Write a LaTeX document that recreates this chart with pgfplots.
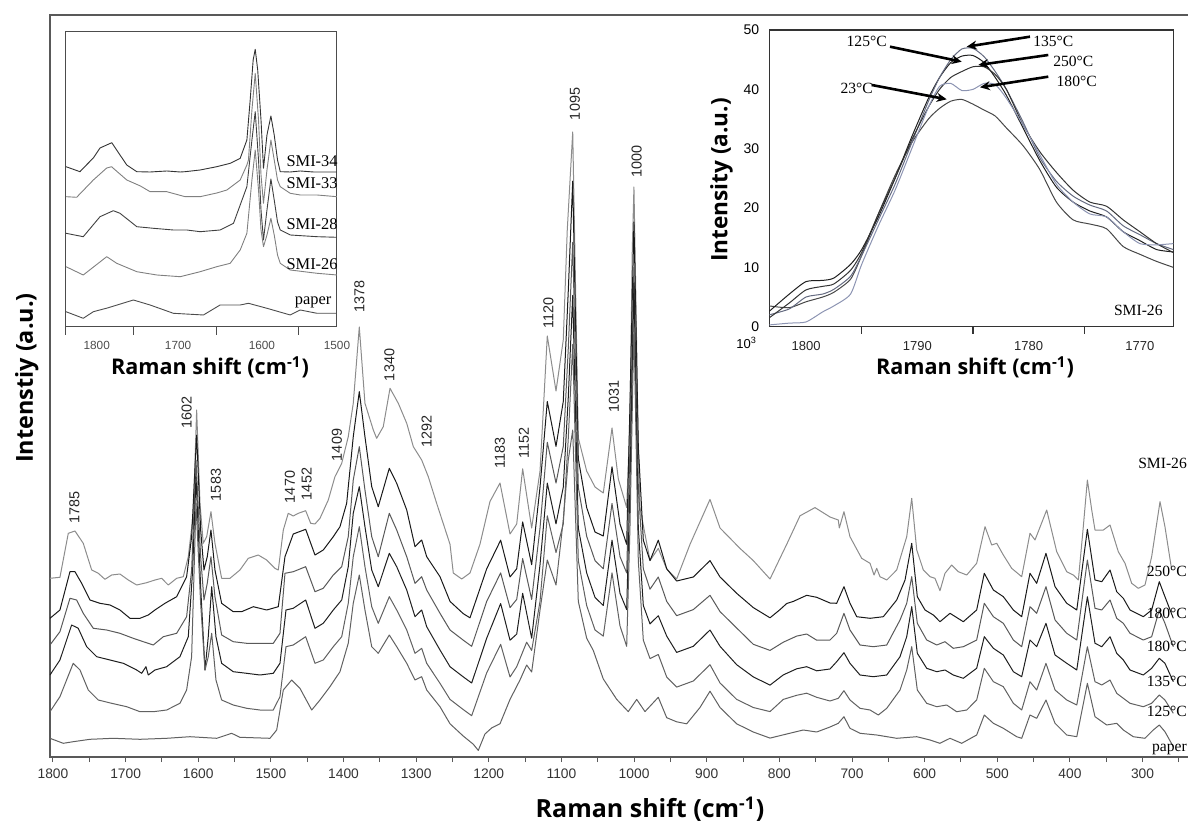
\documentclass[border=0pt]{standalone}
\usepackage{fontspec}
\usepackage{pgfplots}
\pgfplotsset{compat=1.18}
\usetikzlibrary{arrows.meta}
\setmainfont{Liberation Serif}
\newfontfamily\arial{Liberation Sans}
\newfontfamily\osans{Open Sans}
\newcommand{\fs}[1]{\fontsize{#1}{#1}\selectfont}
\pgfplotsset{spec/.style={no markers, line width=0.5pt, line join=round}}
\begin{document}
\begin{tikzpicture}
% ---------------- main spectra ----------------
\begin{axis}[
  at={(25pt,35.5pt)}, anchor=south west, scale only axis,
  width=575.35pt, height=371pt,
  x dir=reverse, xmin=220, xmax=1804.1,
  y dir=reverse, ymin=15, ymax=757,
  xtick={300,400,500,600,700,800,900,1000,1100,1200,1300,1400,1500,1600,1700,1800},
  xticklabels={300,400,500,600,700,800,900,1000,1100,1200,1300,1400,1500,1600,1700,1800},
  minor xtick={250,350,...,1750},
  xtick pos=left,
  ytick=\empty,
  tick align=outside, major tick length=2.6pt, minor tick length=2.6pt,
  axis line style={draw=black!65, line width=0.6pt},
  tick style={draw=black!65, line width=0.5pt},
  xticklabel style={font=\arial\fs{6.9}, text=black!80},
]
% A (top, grey)
\addplot[spec, color=black!45] coordinates {(1804.1,578.3)(1790.4,577.3)(1778.9,533.3)(1769.7,531)(1758.3,543.3)(1746.7,570)(1737.6,573.3)(1728.4,579.3)(1719.2,575)(1707.8,574)(1696.3,580)(1684.8,585)(1671.0,582.7)(1659.6,580)(1650.4,578.3)(1641.3,585)(1629.7,578.3)(1620.6,576.7)(1613.7,556.7)(1606.8,513.3)(1602.2,410)(1597.6,503.3)(1593.1,543.3)(1588.4,536.7)(1582.5,511.7)(1577.0,543.3)(1567.8,578.3)(1556.3,578.3)(1542.6,570)(1531.1,558.3)(1517.4,555)(1505.8,560)(1494.4,568.3)(1489.8,570)(1482.9,530)(1476.1,513.3)(1469.2,516)(1462.3,513.3)(1452.1,510.7)(1445.2,523.3)(1439.3,524)(1432.4,518.3)(1421.0,500)(1411.8,476.7)(1402.5,463.3)(1393.5,436.7)(1386.6,403.3)(1378.3,327)(1370.5,403.3)(1359.0,430)(1354.4,438.3)(1345.3,426.7)(1336.0,388.3)(1324.6,403.3)(1313.0,423.3)(1303.9,446.7)(1292.4,460)(1283.3,476.7)(1271.8,503.3)(1253.4,544.3)(1248.9,573)(1237.3,579)(1225.9,573)(1212.2,544.3)(1198.4,501.5)(1184.6,483)(1170.8,534)(1161.6,524)(1153.4,468.8)(1141.0,528)(1129.5,471)(1119.5,336)(1107.5,391)(1097.5,340)(1092.0,230)(1084.5,132)(1076.8,438)(1065.3,471)(1053.8,487)(1042.4,493)(1030.4,428)(1021.7,479)(1010.2,507.6)(1005.7,420)(1002.5,250)(1000.2,187)(997.5,300)(994.2,450)(991.9,507.6)(978.1,560.6)(966.7,548.4)(955.1,569)(941.4,579)(923.0,544.3)(895.5,499.4)(881.7,528)(854.2,548.4)(835.9,560.6)(812.9,579)(789.9,544.3)(771.6,515.8)(751.0,507.6)(730.3,517)(718.9,520)(717.5,528)(711.1,511.7)(702.8,536.7)(686.7,558.3)(675.2,563.3)(669.7,575)(666.0,568.3)(661.5,576.7)(652.2,580)(638.5,570)(624.7,536.7)(617.8,498.3)(610.9,550)(601.8,570)(592.6,576.7)(585.8,578.3)(578.9,590.7)(572.0,573.3)(562.8,565)(553.7,571.7)(542.1,575)(528.4,563.3)(516.9,526.7)(507.7,545)(500.8,543.3)(491.7,555)(480.2,568.3)(466.4,576.7)(455.0,533.3)(448.1,540)(432.0,510)(418.2,551.7)(404.4,571.7)(395.3,575)(388.4,580)(382,530)(376.0,480)(370,510)(365.5,530)(354.0,530)(344.8,525)(333.4,551.7)(324.2,563.3)(315.0,583.3)(305.9,588.3)(296.7,585)(287.5,556.7)(276.0,501.7)(269.2,526.7)(259.9,570)};
% B
\addplot[spec, color=black!90] coordinates {(1804.1,618.3)(1790.4,610)(1776.6,571.7)(1769.7,571.7)(1760.5,583.3)(1749.1,600)(1735.3,603.3)(1721.5,605)(1707.8,610)(1694.0,618.3)(1680.2,618.3)(1668.8,615)(1659.6,610)(1645.8,603.3)(1629.7,596.7)(1616.0,576.7)(1609.1,536.7)(1602.2,435)(1596.7,530)(1592.1,570)(1587.6,556.7)(1582.5,530)(1577.0,570)(1567.8,603.3)(1551.8,611.7)(1540.3,611.7)(1524.2,606.7)(1505.8,610)(1489.8,606.7)(1480.6,556.7)(1469.2,534)(1452.1,529.3)(1439.3,555)(1427.9,550)(1414.1,536.7)(1404.9,526.7)(1395.7,503.3)(1386.6,436.7)(1378.3,391.7)(1370.5,436.7)(1361.2,486.7)(1352.2,506.7)(1337.0,468.3)(1326.8,483.3)(1313.0,510)(1301.6,546.7)(1292.4,540)(1285.5,556.7)(1267.2,576.7)(1253.4,601.4)(1235.1,613.7)(1225.9,617.8)(1202.9,568.8)(1183.7,540.2)(1170.8,577)(1161.6,568.8)(1153.4,521.9)(1141.0,564.7)(1129.5,487)(1119.5,401.5)(1107.5,446.4)(1097.5,401.5)(1090.6,291)(1084.5,181.2)(1076.8,458.6)(1065.3,507.6)(1053.8,532)(1042.4,536)(1030.4,466.8)(1019.4,524)(1010.2,544.3)(1005.7,405.6)(1000.2,222)(994.2,446.4)(987.3,540.2)(978.1,560.6)(966.7,540.2)(955.1,568.8)(941.4,581)(918.5,577)(895.5,560.6)(881.7,577)(858.8,593.3)(835.9,607.6)(812.9,617.8)(799.1,609.6)(789.9,603.5)(780.8,601.4)(762.4,595.3)(748.6,597.3)(730.3,603)(721.1,603.3)(711.1,586.7)(702.8,603.3)(693.6,616.7)(675.2,618.3)(656.9,616.7)(638.5,600)(627.0,580)(617.8,543.3)(610.1,596.7)(599.5,610)(588.1,615)(578.9,621.7)(565.1,613.3)(546.8,621.7)(528.4,610)(517.9,573.3)(505.4,590)(491.7,596.7)(477.9,610)(466.4,616.7)(455.0,573.3)(445.8,583.3)(433.0,553.3)(420.5,586.7)(404.4,603.3)(390.6,610)(376.0,529.3)(365.5,580)(356.2,581.7)(344.8,570)(335.6,591.7)(326.5,598.3)(317.3,610)(299.0,616.7)(287.5,610)(277.0,581.7)(269.2,596.7)(257.7,618.3)};
% C
\addplot[spec, color=black!65] coordinates {(1804.1,645)(1790.4,631.7)(1776.6,598.3)(1767.4,600)(1758.3,613.3)(1744.5,628.3)(1726.1,630)(1707.8,633.3)(1689.5,638.3)(1675.7,641.7)(1661.9,645)(1648.1,636.7)(1629.7,633.3)(1616.0,616.7)(1609.1,570)(1603.1,460)(1596.7,556.7)(1592.1,600)(1587.6,583.3)(1582.5,556.7)(1577.0,596.7)(1567.8,635)(1551.8,641.7)(1533.3,643.3)(1515.0,643.3)(1496.7,643.3)(1487.5,633.3)(1480.6,573.3)(1469.2,571.7)(1452.1,566.7)(1439.3,591.7)(1427.9,588.3)(1414.1,575)(1402.5,566.7)(1393.5,536.7)(1386.6,480)(1378.3,446.7)(1370.5,490)(1361.2,536.7)(1352.2,556.7)(1337.0,513.3)(1326.8,530)(1313.0,556.7)(1301.6,583.3)(1292.4,576.7)(1285.5,590)(1267.2,613.3)(1253.4,630)(1235.1,640.2)(1223.6,646.3)(1202.9,601.4)(1183.7,572.9)(1170.8,607.6)(1161.6,599.4)(1153.4,558.6)(1141.0,599.4)(1129.5,528)(1119.5,442.3)(1107.5,483)(1097.5,446.4)(1090.6,348.5)(1084.5,242.4)(1076.8,487.2)(1065.3,536.2)(1053.8,560.6)(1042.4,568.8)(1030.4,503.5)(1019.4,556.6)(1010.2,572.9)(1005.7,446.4)(1000.2,266.9)(994.2,487.2)(987.3,568.8)(978.1,589.2)(966.7,577)(955.1,601.4)(941.4,615.7)(918.5,609.6)(895.5,595.3)(881.7,611.6)(858.8,628)(835.9,644.3)(812.9,650.4)(794.6,642.2)(776.2,636.1)(762.4,634)(748.6,640.2)(730.3,640)(721.1,633.3)(711.1,613.3)(702.8,630)(689.0,645)(670.7,646.7)(652.2,645)(633.9,620)(624.7,603.3)(617.8,576.7)(610.1,623.3)(597.2,640)(583.4,645)(572.0,641.7)(560.6,648.3)(546.8,646.7)(528.4,640)(517.9,603.3)(505.4,616.7)(491.7,623.3)(477.9,640)(466.4,646.7)(455.0,606.7)(445.8,613.3)(433.0,586.7)(420.5,620)(404.4,633.3)(390.6,640)(376.0,560)(365.5,608.3)(356.2,610)(344.8,600)(335.6,618.3)(326.5,623.3)(317.3,633.3)(299.0,640)(287.5,636.7)(277.0,610)(269.2,623.3)(257.7,646.7)};
% D
\addplot[spec, color=black!88] coordinates {(1804.1,675)(1790.4,660)(1774.3,625)(1765.2,628.3)(1753.6,646.7)(1739.8,656.7)(1721.5,660)(1703.2,663.3)(1684.8,670)(1677.9,673.3)(1672.0,666.7)(1668.8,675)(1659.6,670)(1643.5,666.7)(1625.2,656.7)(1613.7,636.7)(1607.7,570)(1603.1,476.7)(1596.7,586.7)(1590.7,670)(1586.2,636.7)(1581.5,586.7)(1575.6,636.7)(1567.8,663.3)(1551.8,671.7)(1533.3,673.3)(1515.0,675)(1496.7,673.3)(1487.5,663.3)(1479.2,610)(1469.2,608.3)(1452.1,600)(1439.3,628.3)(1427.9,623.3)(1414.1,610)(1402.5,600)(1393.5,566.7)(1386.6,513.3)(1378.3,486.7)(1370.5,526.7)(1361.2,570)(1352.2,586.7)(1337.0,553.3)(1326.8,566.7)(1313.0,590)(1301.6,616.7)(1292.4,610)(1285.5,626.7)(1267.2,650)(1253.4,666.7)(1235.1,676.9)(1223.6,683)(1202.9,638.2)(1183.7,603.5)(1170.8,640.2)(1161.6,634.1)(1153.4,593.3)(1141.0,638.2)(1129.5,564.7)(1119.5,483.1)(1107.5,523.9)(1097.5,487.2)(1090.6,397.4)(1084.5,295.4)(1076.8,528)(1065.3,572.9)(1053.8,597.4)(1042.4,605.5)(1030.4,540.2)(1019.4,593.3)(1010.2,609.6)(1005.7,487.2)(1000.2,283.2)(994.2,528)(987.3,605.5)(978.1,623.9)(966.7,615.7)(955.1,636.1)(941.4,652.4)(918.5,646.3)(895.5,630)(881.7,646.3)(858.8,664.7)(835.9,676.9)(812.9,685.1)(794.6,674.9)(776.2,668.8)(762.4,666.7)(748.6,670.8)(730.3,669)(721.1,661.7)(711.1,652.7)(702.8,663.3)(689.0,675)(670.7,676.7)(652.2,675)(633.9,656.7)(624.7,636.7)(617.8,606.7)(610.1,653.3)(597.2,668.3)(583.4,671.7)(572.0,670)(560.6,675)(546.8,678.3)(528.4,668.3)(517.9,636.7)(505.4,648.3)(491.7,655)(477.9,671.7)(466.4,676.7)(455.0,640)(445.8,646.7)(433.0,623.3)(420.5,655)(404.4,663.3)(390.6,670)(376.0,596.7)(365.5,643.3)(356.2,646.7)(344.8,636.7)(335.6,653.3)(326.5,660)(317.3,670)(299.0,675)(287.5,668.3)(277.0,658.3)(269.2,663.3)(257.7,681.7)};
% E
\addplot[spec, color=black!62] coordinates {(1804.1,711.7)(1790.4,696.7)(1772.1,663.3)(1762.8,670)(1751.4,690)(1737.6,700)(1719.2,703.3)(1698.5,706.7)(1680.2,711.7)(1661.9,711.7)(1643.5,710)(1625.2,703.3)(1616.0,690)(1609.1,656.7)(1603.1,503.3)(1596.7,603.3)(1590.7,670)(1586.2,656.7)(1581.5,633.3)(1575.6,680)(1567.8,700)(1551.8,705)(1533.3,708.3)(1515.0,710)(1496.7,710)(1487.5,696.7)(1479.2,646.7)(1469.2,645)(1452.1,636.7)(1439.3,663.3)(1427.9,660)(1414.1,646.7)(1402.5,636.7)(1393.5,603.3)(1386.6,556.7)(1378.3,526.7)(1370.5,566.7)(1361.2,606.7)(1352.2,623.3)(1337.0,596.7)(1326.8,610)(1313.0,630)(1301.6,653.3)(1292.4,648.3)(1285.5,663.3)(1267.2,683.3)(1253.4,699.4)(1235.1,709.6)(1223.6,715.7)(1202.9,672.8)(1183.7,644.3)(1170.8,677)(1161.6,666.7)(1147.9,642.2)(1141.0,650.4)(1129.5,601.4)(1119.5,515.8)(1107.5,552.5)(1097.5,523.9)(1090.6,438.2)(1084.5,344.4)(1076.8,560.6)(1065.3,605.5)(1053.8,630)(1042.4,636.1)(1030.4,572.9)(1019.4,625.9)(1010.2,646.3)(1005.7,528)(1000.2,324)(994.2,560.6)(987.3,640.2)(978.1,658.6)(966.7,654.5)(955.1,677)(941.4,687.1)(918.5,681)(895.5,664.7)(881.7,683)(858.8,699.4)(835.9,707.5)(812.9,711.6)(794.6,699.4)(776.2,695.3)(762.4,693.2)(748.6,697.3)(730.3,701)(718.9,698.3)(711.1,690.7)(702.8,700)(689.0,708.3)(675.2,710)(663.8,715)(652.2,708.3)(633.9,690)(624.7,670)(617.8,646.7)(610.1,690)(597.2,703.3)(583.4,706.7)(569.7,705)(555.9,711.7)(542.1,710)(528.4,700)(517.9,668.3)(505.4,681.7)(491.7,686.7)(477.9,703.3)(466.4,710)(455.0,681.7)(445.8,690)(433.0,663.3)(420.5,690)(404.4,700)(390.6,705)(376.0,646.7)(365.5,681.7)(356.2,685)(344.8,680)(335.6,693.3)(326.5,698.3)(317.3,703.3)(299.0,706.7)(287.5,703.3)(277.0,695)(269.2,700)(257.7,713.3)};
% F paper
\addplot[spec, color=black!62] coordinates {(1804.1,738.3)(1785.8,743.3)(1772.1,741.7)(1749.1,739.3)(1717.0,738.3)(1680.2,739.3)(1643.5,738.3)(1611.4,736.7)(1574.6,738.3)(1554.0,733.3)(1542.6,737.3)(1501.3,738.3)(1492.0,730)(1482.9,690)(1471.4,680)(1460.0,688.3)(1443.8,710)(1432.4,700)(1418.7,686.7)(1404.9,671.7)(1393.5,643.3)(1386.6,603.3)(1378.3,575)(1370.5,610)(1361.2,646.7)(1352.2,653.3)(1337.0,635)(1326.8,646.7)(1313.0,663.3)(1301.6,680)(1292.4,676.7)(1285.5,690)(1267.2,706.7)(1253.4,723.8)(1235.1,736.1)(1221.4,744.2)(1214.5,750.4)(1205.3,734)(1196.0,727.9)(1184.6,723.8)(1170.8,699.4)(1157.1,680)(1147.9,665)(1141.0,672)(1129.5,610)(1119.5,560)(1107.5,585)(1097.5,520)(1090.6,460)(1084.5,430)(1076.8,601.4)(1065.3,638.2)(1056.2,650.4)(1042.4,679)(1023.9,699.4)(1008.0,711.6)(996.4,699.4)(985.0,711.6)(966.7,697.3)(955.1,717.7)(941.4,721.8)(927.6,723.8)(909.3,707.5)(895.5,691.2)(881.7,707.5)(858.8,723.8)(835.9,732)(812.9,738.1)(789.9,734)(767.1,730)(748.6,732)(730.3,727)(718.9,723.3)(711.1,716.7)(702.8,728.3)(689.0,733.3)(666.0,735)(638.5,738.3)(610.9,736.7)(592.6,740)(578.9,743.3)(565.1,738.3)(549.0,743.3)(528.4,735)(517.9,715)(505.4,723.3)(491.7,728.3)(473.3,736.7)(466.4,738.3)(455.0,715)(445.8,718.3)(433.0,700)(420.5,723.3)(404.4,735)(390.6,736.7)(376.0,683.3)(365.5,716.7)(349.4,725)(335.6,723.3)(326.5,730)(312.8,736.7)(296.7,738.3)(285.3,730)(277.0,725)(269.2,731.7)(257.7,746.7)};
\end{axis}

% peak labels
\begin{scope}[every node/.style={rotate=90, inner sep=0pt, font=\arial\fs{7.2}, text=black!85}]
\node at (37.25pt,160.15pt) {1785};
\node at (93.35pt,207.75pt) {1602};
\node at (108pt,171.5pt) {1583};
\node at (145pt,170.5pt) {1470};
\node at (153.35pt,172pt) {1452};
\node at (168.5pt,191.5pt) {1409};
\node at (179.65pt,265.65pt) {1378};
\node at (194.65pt,231.5pt) {1340};
\node at (213.35pt,198.15pt) {1292};
\node at (250pt,187.35pt) {1183};
\node at (262pt,192.35pt) {1152};
\node at (274.25pt,257.35pt) {1120};
\node at (287.5pt,362pt) {1095};
\node at (307pt,215.65pt) {1031};
\node at (318.35pt,333.15pt) {1000};
\end{scope}

% right labels (kept inside the picture)
\begin{scope}[every node/.style={anchor=base east, inner sep=0pt, font=\fs{7.8}}]
\node at (593.6pt,179.85pt) {SMI-26};
\node at (593.6pt,125.5pt) {250°C};
\node at (593.6pt,104.7pt) {180°C};
\node at (593.6pt,88.35pt) {180°C};
\node at (593.6pt,70.5pt) {135°C};
\node at (593.6pt,55.5pt) {125°C};
\node at (593.6pt,38.15pt) {paper};
\end{scope}

% main axis labels
\node[anchor=base, inner sep=0pt, font=\osans\bfseries\fs{12.5}] at (325pt,5pt) {Raman shift (cm\textsuperscript{-1})};
\node[anchor=base, rotate=90, inner sep=0pt, font=\osans\bfseries\fs{11.7}] at (16.5pt,225pt) {Intenstiy (a.u.)};

% ---------------- inset 1 ----------------
\begin{axis}[
  at={(33pt,250.5pt)}, anchor=south west, scale only axis,
  width=135.5pt, height=147.5pt,
  x dir=reverse, xmin=1500, xmax=1828.1,
  y dir=reverse, ymin=32, ymax=327,
  xtick={1790.9,1692.4,1590.9,1500}, xticklabels={1800,1700,1600,1500},
  minor xtick={1828.1,1746.9,1646.3,1546.9},
  xtick pos=left,
  tick align=outside, major tick length=0pt, minor tick length=4pt,
  ytick=\empty,
  axis line style={draw=black!70, line width=0.5pt},
  tick style={draw=black!70, line width=0.5pt},
  xticklabel style={font=\arial\fs{5.9}, text=black!70, yshift=-3.5pt},
]
\addplot[spec, line width=0.45pt, color=black!80] coordinates {(1828.1,166.7)(1811.2,171.7)(1807,168)(1795,158)(1786.9,148)(1772.7,142.7)(1762.7,155)(1754.5,165)(1742.4,171.7)(1726.3,172)(1706.1,171)(1689.9,172)(1683.9,171.7)(1665.7,170)(1645.5,166.7)(1629.3,163.3)(1617.2,158.3)(1609.1,140)(1605.1,100)(1601.5,60)(1599.0,49.3)(1596,70)(1592,120)(1589.0,168.3)(1584.8,135)(1580.0,116)(1576,135)(1572,160)(1568.7,171.7)(1556.6,172)(1544.5,171)(1528.4,172)(1500,172)};
\addplot[spec, line width=0.45pt, color=black!50] coordinates {(1828.1,196.7)(1815.2,197.3)(1795.0,180)(1778.8,168)(1772.7,166.7)(1770.8,168.3)(1754.5,180)(1738,186)(1726.3,191.7)(1706.1,191.7)(1683.9,196.7)(1665.7,196.7)(1645.5,193)(1633.3,190)(1617.2,180)(1609.1,165)(1607.2,160)(1603,110)(1599.0,73.3)(1595,120)(1592,175)(1589.0,203.3)(1584.8,170)(1580.0,140)(1576,160)(1572,180)(1568.7,186.7)(1556.6,193.3)(1544.5,195)(1524.2,195)(1500,196.7)};
\addplot[spec, line width=0.45pt, color=black!75] coordinates {(1828.1,233.3)(1807.2,236.7)(1786.9,216.7)(1770.8,210.7)(1762.7,213.3)(1742.4,226.7)(1722.3,228.3)(1698.1,230)(1681.8,230)(1665.7,231.7)(1641.5,230)(1625.3,223.3)(1617.2,205)(1609.1,186.7)(1603,140)(1599.0,111.7)(1595,160)(1592,210)(1589.0,240)(1584.8,210)(1580.0,179)(1576,200)(1572,222)(1568.7,230)(1556.6,235)(1524.2,236.7)(1500,237.3)};
\addplot[spec, line width=0.45pt, color=black!50] coordinates {(1828.1,266.7)(1807.2,275)(1778.8,256.7)(1766.7,263.3)(1742.4,271.7)(1718.2,275)(1689.9,276.7)(1665.7,271.7)(1645.5,266.7)(1629.3,263.3)(1617.2,250)(1609.1,233.3)(1603,180)(1599.0,150)(1595,190)(1592,230)(1589.0,246.7)(1584.8,235)(1580.0,218.3)(1576,235)(1572,255)(1568.7,263.3)(1556.6,270)(1524.2,273.3)(1500,275)};
\addplot[spec, line width=0.45pt, color=black!70] coordinates {(1828.1,311.7)(1807.2,318.3)(1795.0,311.7)(1778,308)(1746.5,300)(1726.3,305)(1698.1,313.3)(1661.7,315)(1641.5,305)(1617.2,305)(1607.2,303.3)(1584.8,308.3)(1556.6,315)(1544.5,310)(1524.2,313.3)(1500,313.3)};
\end{axis}
\begin{scope}[every node/.style={anchor=base east, inner sep=0pt, font=\fs{8.2}}]
\node at (169pt,330.75pt) {SMI-34};
\node at (169pt,319.75pt) {SMI-33};
\node at (169pt,299.25pt) {SMI-28};
\node at (169pt,279.25pt) {SMI-26};
\node at (165.85pt,261.5pt) {paper};
\end{scope}
\node[anchor=base, inner sep=0pt, font=\osans\bfseries\fs{10.8}] at (105pt,226.5pt) {Raman shift (cm\textsuperscript{-1})};

% ---------------- inset 2 ----------------
\begin{axis}[
  at={(384.65pt,250.65pt)}, anchor=south west, scale only axis,
  width=202pt, height=148.35pt,
  x dir=reverse, xmin=1767, xmax=1803.3,
  ymin=0, ymax=50,
  xtick={1770,1780,1790,1800}, xticklabels={1770,1780,1790,1800},
  minor xtick={1775,1785,1795},
  xtick pos=left, ytick pos=left,
  ytick={0,10,20,30,40,50}, yticklabels={0,10,20,30,40,50},
  tick align=outside, major tick length=0pt, minor tick length=3.5pt,
  axis line style={draw=black!80, line width=0.7pt},
  tick style={draw=black!80, line width=0.6pt},
  xticklabel style={font=\arial\fs{6.5}, text=black!85, yshift=-4pt},
  yticklabel style={font=\arial\fs{7}, text=black, xshift=-1.5pt},
]
\addplot[spec, smooth, tension=0.4, color=black!72] coordinates {(1803.3,3.5)(1801.5,3.2)(1800,4.2)(1798.5,5)(1797.5,5.8)(1796,8)(1795,12)(1793.5,19)(1792,25.5)(1790.5,31)(1789,35)(1788,36.8)(1787,38)(1786,38.3)(1785,37.5)(1784,36.5)(1783,35.5)(1782,33.5)(1780.5,30.5)(1779,26.5)(1777.5,21)(1776,18)(1774.5,17.3)(1773,16.5)(1771.5,13.5)(1770,12.2)(1768.5,11)(1767,10)};
\addplot[spec, smooth, tension=0.4, color=black!88] coordinates {(1803.3,2.6)(1801.5,5.5)(1800,7.6)(1798.5,7.8)(1797.5,8.2)(1796,10.5)(1795,13)(1793.5,18.5)(1792,25)(1790.5,32)(1789,38.5)(1788,42)(1787,44.5)(1786,45.6)(1785,45.7)(1784,44.5)(1783,42)(1782,39)(1780.5,33.5)(1779,28)(1777.5,23.5)(1776,21)(1774.5,19.5)(1773,18.5)(1771.5,16)(1770,14.5)(1768.5,13)(1767,12.6)};
\addplot[spec, smooth, tension=0.4, color={rgb,255:red,100;green,106;blue,128}] coordinates {(1803.3,2.0)(1801.5,3.0)(1800,5.0)(1798.5,5.5)(1797.5,6.3)(1796,8.5)(1795,12)(1793.5,18)(1792,24)(1790.5,31)(1789,38)(1788,42)(1787,45)(1786,46.8)(1785,46.9)(1784,45.5)(1783,43)(1782,40)(1780.5,34.5)(1779,28.5)(1777.5,24.5)(1776,22)(1774.5,20.5)(1773,19.5)(1771.5,17)(1770,15.5)(1768.5,14)(1767,13)};
\addplot[spec, smooth, tension=0.4, color=black!80] coordinates {(1803.3,1.5)(1801.5,4)(1800,6.2)(1798.5,6.8)(1797.5,7.2)(1796,9.5)(1795,12.5)(1793.5,19)(1792,25)(1790.5,31.5)(1789,37)(1788,40)(1787,42)(1786,43)(1785,43.8)(1784,43.8)(1783,42.5)(1782,40)(1780.5,34)(1779,29.5)(1777.5,26)(1776,23)(1774.5,21)(1773,20.3)(1771.5,18)(1770,16)(1768.5,14)(1767,12.5)};
\addplot[spec, smooth, tension=0.4, color={rgb,255:red,140;green,148;blue,178}] coordinates {(1803.3,0.3)(1801.5,0.6)(1800,0.8)(1798.5,2.5)(1797.5,3.5)(1796,5.5)(1795,10.5)(1793.5,17)(1792,23)(1790.5,30)(1789,37)(1788,40.5)(1787,41)(1786,39.8)(1785,40)(1784,41)(1783,40.8)(1782,38.5)(1780.5,34)(1779,29)(1777.5,24)(1776,21)(1774.5,19)(1773,18.5)(1771.5,16)(1770,14)(1768.5,13.8)(1767,14)};
\end{axis}
\begin{scope}[every node/.style={inner sep=0pt, font=\fs{7.8}}]
\node at (433.35pt,393.15pt) {125°C};
\node at (526.65pt,393.15pt) {135°C};
\node at (536.65pt,383.15pt) {250°C};
\node at (538.35pt,373.15pt) {180°C};
\node at (428.35pt,369.85pt) {23°C};
\node at (569.15pt,259pt) {SMI-26};
\end{scope}
\begin{scope}[line width=1.3pt, -{Stealth[length=5pt,width=4.5pt]}]
\draw (445pt,390.65pt) -- (480.85pt,383.15pt);
\draw (515pt,395.65pt) -- (483.35pt,390.65pt);
\draw (524.15pt,386.5pt) -- (489.15pt,381.5pt);
\draw (524.15pt,375.65pt) -- (490pt,370.35pt);
\draw (435.85pt,371.5pt) -- (473.35pt,364.35pt);
\end{scope}
\node[inner sep=0pt, font=\arial\fs{6.5}] at (373.35pt,242.5pt) {10\textsuperscript{3}};
\node[anchor=base, inner sep=0pt, font=\osans\bfseries\fs{10.8}] at (487.5pt,226.5pt) {Raman shift (cm\textsuperscript{-1})};
\node[anchor=base, rotate=90, inner sep=0pt, font=\osans\bfseries\fs{11.3}] at (363.65pt,324pt) {Intensity (a.u.)};

\pgfresetboundingbox
\useasboundingbox (0,0) rectangle (594pt,414pt);
\end{tikzpicture}
\end{document}
